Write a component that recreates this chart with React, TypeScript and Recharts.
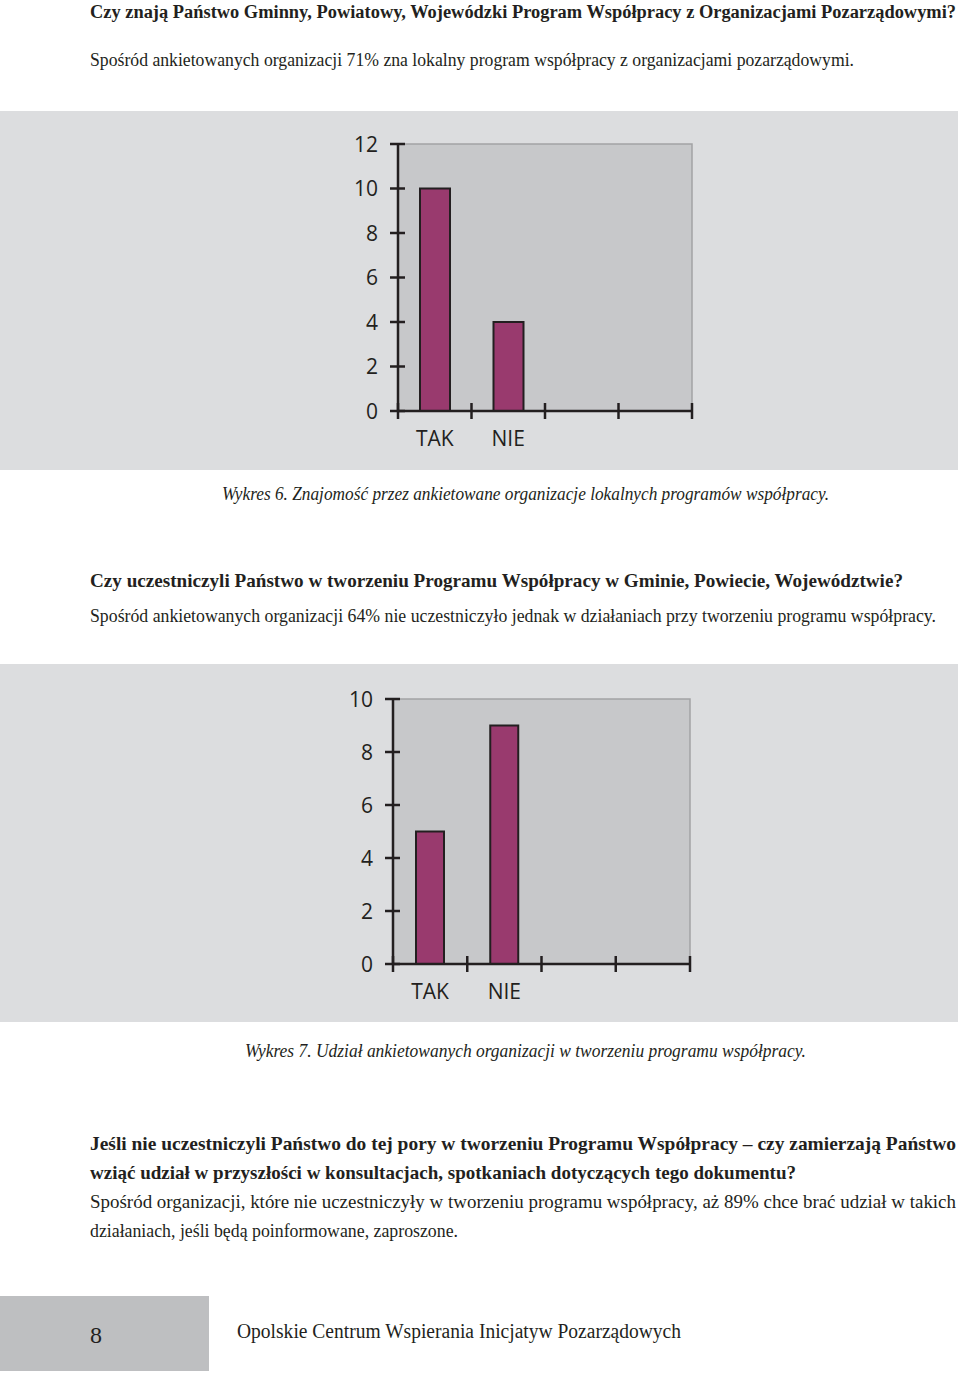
import React from 'react';
import { BarChart, Bar, XAxis, YAxis, ReferenceArea } from 'recharts';

// ---- Data ----
const categories1 = ['TAK', 'NIE', ' ', '  '];
const values1: (number | null)[] = [10, 4, null, null];
const yTicks1 = [0, 2, 4, 6, 8, 10, 12];

const categories2 = ['TAK', 'NIE', ' ', '  '];
const values2: (number | null)[] = [5, 9, null, null];
const yTicks2 = [0, 2, 4, 6, 8, 10];

const data1 = categories1.map((name, i) => ({ name, value: values1[i] }));
const data2 = categories2.map((name, i) => ({ name, value: values2[i] }));

// ---- Styles ----
const INK = '#231f20';
const BAR = '#993a6e';
const PANEL = '#dcdddf';
const PLOT = '#c7c8ca';
const BORDER = '#a2a3a5';
const SANS = '"Open Sans", "Noto Sans", sans-serif';
const SERIF = '"Liberation Serif", "DejaVu Serif", serif';
const Y_TICK_SIZE = 8;
const Y_TICK_MARGIN = 12;

const YTick = (props: any) => {
  const { x, y, payload } = props;
  const lx = x + Y_TICK_MARGIN;
  return (
    <g>
      <line x1={lx} x2={lx + 15} y1={y} y2={y} stroke={INK} strokeWidth={2.5} />
      <text x={x} y={y} dy="0.36em" textAnchor="end" fontFamily={SANS} fontSize={21} fill={INK}>
        {payload.value}
      </text>
    </g>
  );
};

const XTick = (props: any) => {
  const { x, y, payload, width, visibleTicksCount, index } = props;
  const half =
    payload && typeof payload.offset === 'number' && payload.offset > 0
      ? payload.offset
      : width / visibleTicksCount / 2;
  const left = x - half;
  const right = x + half;
  return (
    <g>
      <line x1={left} x2={left} y1={y - 8} y2={y + 8} stroke={INK} strokeWidth={2.5} />
      {index === visibleTicksCount - 1 && (
        <line x1={right} x2={right} y1={y - 8} y2={y + 8} stroke={INK} strokeWidth={2.5} />
      )}
      <text x={x} y={y + 35} textAnchor="middle" fontFamily={SANS} fontSize={21} fill={INK}>
        {payload.value}
      </text>
    </g>
  );
};

type ChartProps = {
  data: { name: string; value: number | null }[];
  ticks: number[];
  max: number;
  width: number;
  height: number;
  top: number;
  right: number;
  yWidth: number;
  xHeight: number;
  barSize: number;
};

const PanelChart = ({ data, ticks, max, width, height, top, right, yWidth, xHeight, barSize }: ChartProps) => (
  <BarChart
    width={width}
    height={height}
    data={data}
    margin={{ top, right, bottom: 0, left: 0 }}
    barCategoryGap={0}
  >
    <ReferenceArea y1={0} y2={max} fill={PLOT} fillOpacity={1} stroke={BORDER} strokeWidth={1.5} ifOverflow="visible" />
    <XAxis
      dataKey="name"
      type="category"
      height={xHeight}
      axisLine={{ stroke: INK, strokeWidth: 2.5 }}
      tickLine={false}
      tickSize={0}
      tickMargin={0}
      interval={0}
      tick={<XTick />}
    />
    <YAxis
      type="number"
      domain={[0, max]}
      ticks={ticks}
      width={yWidth}
      axisLine={{ stroke: INK, strokeWidth: 2.5 }}
      tickLine={false}
      tickSize={Y_TICK_SIZE}
      tickMargin={Y_TICK_MARGIN}
      interval={0}
      tick={<YTick />}
    />
    <Bar dataKey="value" fill={BAR} stroke={INK} strokeWidth={2} barSize={barSize} isAnimationActive={false} />
  </BarChart>
);

const T = ({ x, y, w, children, weight, italic, size = 19 }: any) => (
  <text
    x={x}
    y={y}
    textLength={w}
    lengthAdjust="spacingAndGlyphs"
    fontFamily={SERIF}
    fontSize={size}
    fontWeight={weight || 'normal'}
    fontStyle={italic ? 'italic' : 'normal'}
    fill={INK}
  >
    {children}
  </text>
);

export default function App() {
  return (
    <div style={{ position: 'absolute', left: 0, top: 0, width: 960, height: 1373, background: '#fff', overflow: 'hidden' }}>
      <div style={{ position: 'absolute', left: 0, top: 111, width: 958, height: 359, background: PANEL }}>
        <PanelChart data={data1} ticks={yTicks1} max={12} width={958} height={359} top={33} right={266} yWidth={398} xHeight={59} barSize={30} />
      </div>
      <div style={{ position: 'absolute', left: 0, top: 664, width: 958, height: 358, background: PANEL }}>
        <PanelChart data={data2} ticks={yTicks2} max={10} width={958} height={358} top={35} right={268} yWidth={393} xHeight={58} barSize={28} />
      </div>
      <div style={{ position: 'absolute', left: 0, top: 1296, width: 209, height: 75, background: '#bebfc1' }} />
      <svg width={960} height={1373} style={{ position: 'absolute', left: 0, top: 0, pointerEvents: 'none' }}>
        <T x={90} y={18} w={866} weight="bold" size={18}>Czy znają Państwo Gminny, Powiatowy, Wojewódzki Program Współpracy z Organizacjami Pozarządowymi?</T>
        <T x={90} y={66} w={764}>Spośród ankietowanych organizacji 71% zna lokalny program współpracy z organizacjami pozarządowymi.</T>
        <T x={222} y={500} w={607} italic>Wykres 6. Znajomość przez ankietowane organizacje lokalnych programów współpracy.</T>
        <T x={90} y={587} w={813} weight="bold">Czy uczestniczyli Państwo w tworzeniu Programu Współpracy w Gminie, Powiecie, Województwie?</T>
        <T x={90} y={622} w={846} size={18}>Spośród ankietowanych organizacji 64% nie uczestniczyło jednak w działaniach przy tworzeniu programu współpracy.</T>
        <T x={245} y={1057} w={561} italic>Wykres 7. Udział ankietowanych organizacji w tworzeniu programu współpracy.</T>
        <T x={90} y={1150} w={866} weight="bold">Jeśli nie uczestniczyli Państwo do tej pory w tworzeniu Programu Współpracy – czy zamierzają Państwo</T>
        <T x={90} y={1179} w={706} weight="bold">wziąć udział w przyszłości w konsultacjach, spotkaniach dotyczących tego dokumentu?</T>
        <T x={90} y={1208} w={866}>Spośród organizacji, które nie uczestniczyły w tworzeniu programu współpracy, aż 89% chce brać udział w takich</T>
        <T x={90} y={1237} w={368}>działaniach, jeśli będą poinformowane, zaproszone.</T>
        <text x={96} y={1343} textAnchor="middle" fontFamily={SERIF} fontSize={24} fill={INK}>8</text>
        <T x={237} y={1338} w={444} size={20}>Opolskie Centrum Wspierania Inicjatyw Pozarządowych</T>
      </svg>
    </div>
  );
}
